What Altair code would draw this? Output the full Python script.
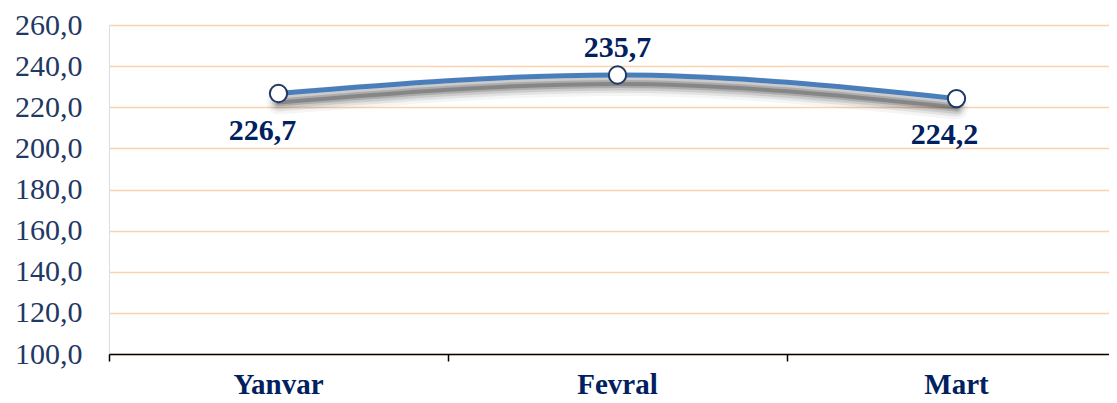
import altair as alt
import pandas as pd

months = ["Yanvar", "Fevral", "Mart"]
values = [226.7, 235.7, 224.2]
labels = ["226,7", "235,7", "224,2"]

df = pd.DataFrame({"month": months, "value": values, "label": labels})

FONT = "Liberation Serif"
xenc = alt.X("month:N", sort=months,
             scale=alt.Scale(type="band", paddingInner=0, paddingOuter=0, range=[0, 1017]),
             axis=alt.Axis(title=None, bandPosition=0, labelAngle=0, labelFont=FONT,
                           labelFontSize=29, labelFontWeight="bold", labelColor="#002060",
                           labelPadding=9, domainColor="#000000", domainWidth=1.5,
                           tickColor="#000000", tickSize=7, tickWidth=1.5, grid=False,
                           labelBound=False, labelFlush=False))
yenc = alt.Y("value:Q",
             scale=alt.Scale(domain=[100, 260], nice=False, zero=False),
             axis=alt.Axis(title=None, values=list(range(100, 261, 20)),
                           labelExpr="replace(format(datum.value, '.1f'), '.', ',')",
                           labelFont=FONT, labelFontSize=30, labelColor="#1f3864",
                           labelPadding=27, tickSize=0, domain=False,
                           grid=True, gridColor="#f9d3b0", gridWidth=1.5))

base = alt.Chart(df).encode(x=xenc, y=yenc)

shadows = [
    base.mark_line(interpolate="monotone", stroke="#000000", strokeWidth=w,
                   opacity=o, yOffset=9, strokeCap="round")
    for w, o in [(24, 0.04), (18, 0.07), (13, 0.1), (8, 0.15), (4, 0.22)]
]
line = base.mark_line(interpolate="monotone", stroke="#4a7ebb", strokeWidth=5)
pts = base.mark_point(filled=True, fill="#ffffff", stroke="#1f3864", strokeWidth=2,
                      size=300, opacity=1)

def lab(m, dx, dy):
    return base.transform_filter(alt.datum.month == m).mark_text(
        font=FONT, fontSize=30, fontWeight="bold", color="#002060",
        dx=dx, dy=dy, baseline="middle").encode(text="label:N")

texts = [lab("Yanvar", -16, 38), lab("Fevral", 0, -27), lab("Mart", -12, 36)]

chart = alt.layer(*shadows, line, pts, *texts).properties(
    width=1000, height=329,
    padding={"left": 101, "top": 17, "right": 0, "bottom": 44},
    autosize=alt.AutoSizeParams(type="none"),
).configure_view(stroke=None).configure(background="#ffffff")

chart.save("out.html", embed_options={"renderer": "svg", "actions": False})
